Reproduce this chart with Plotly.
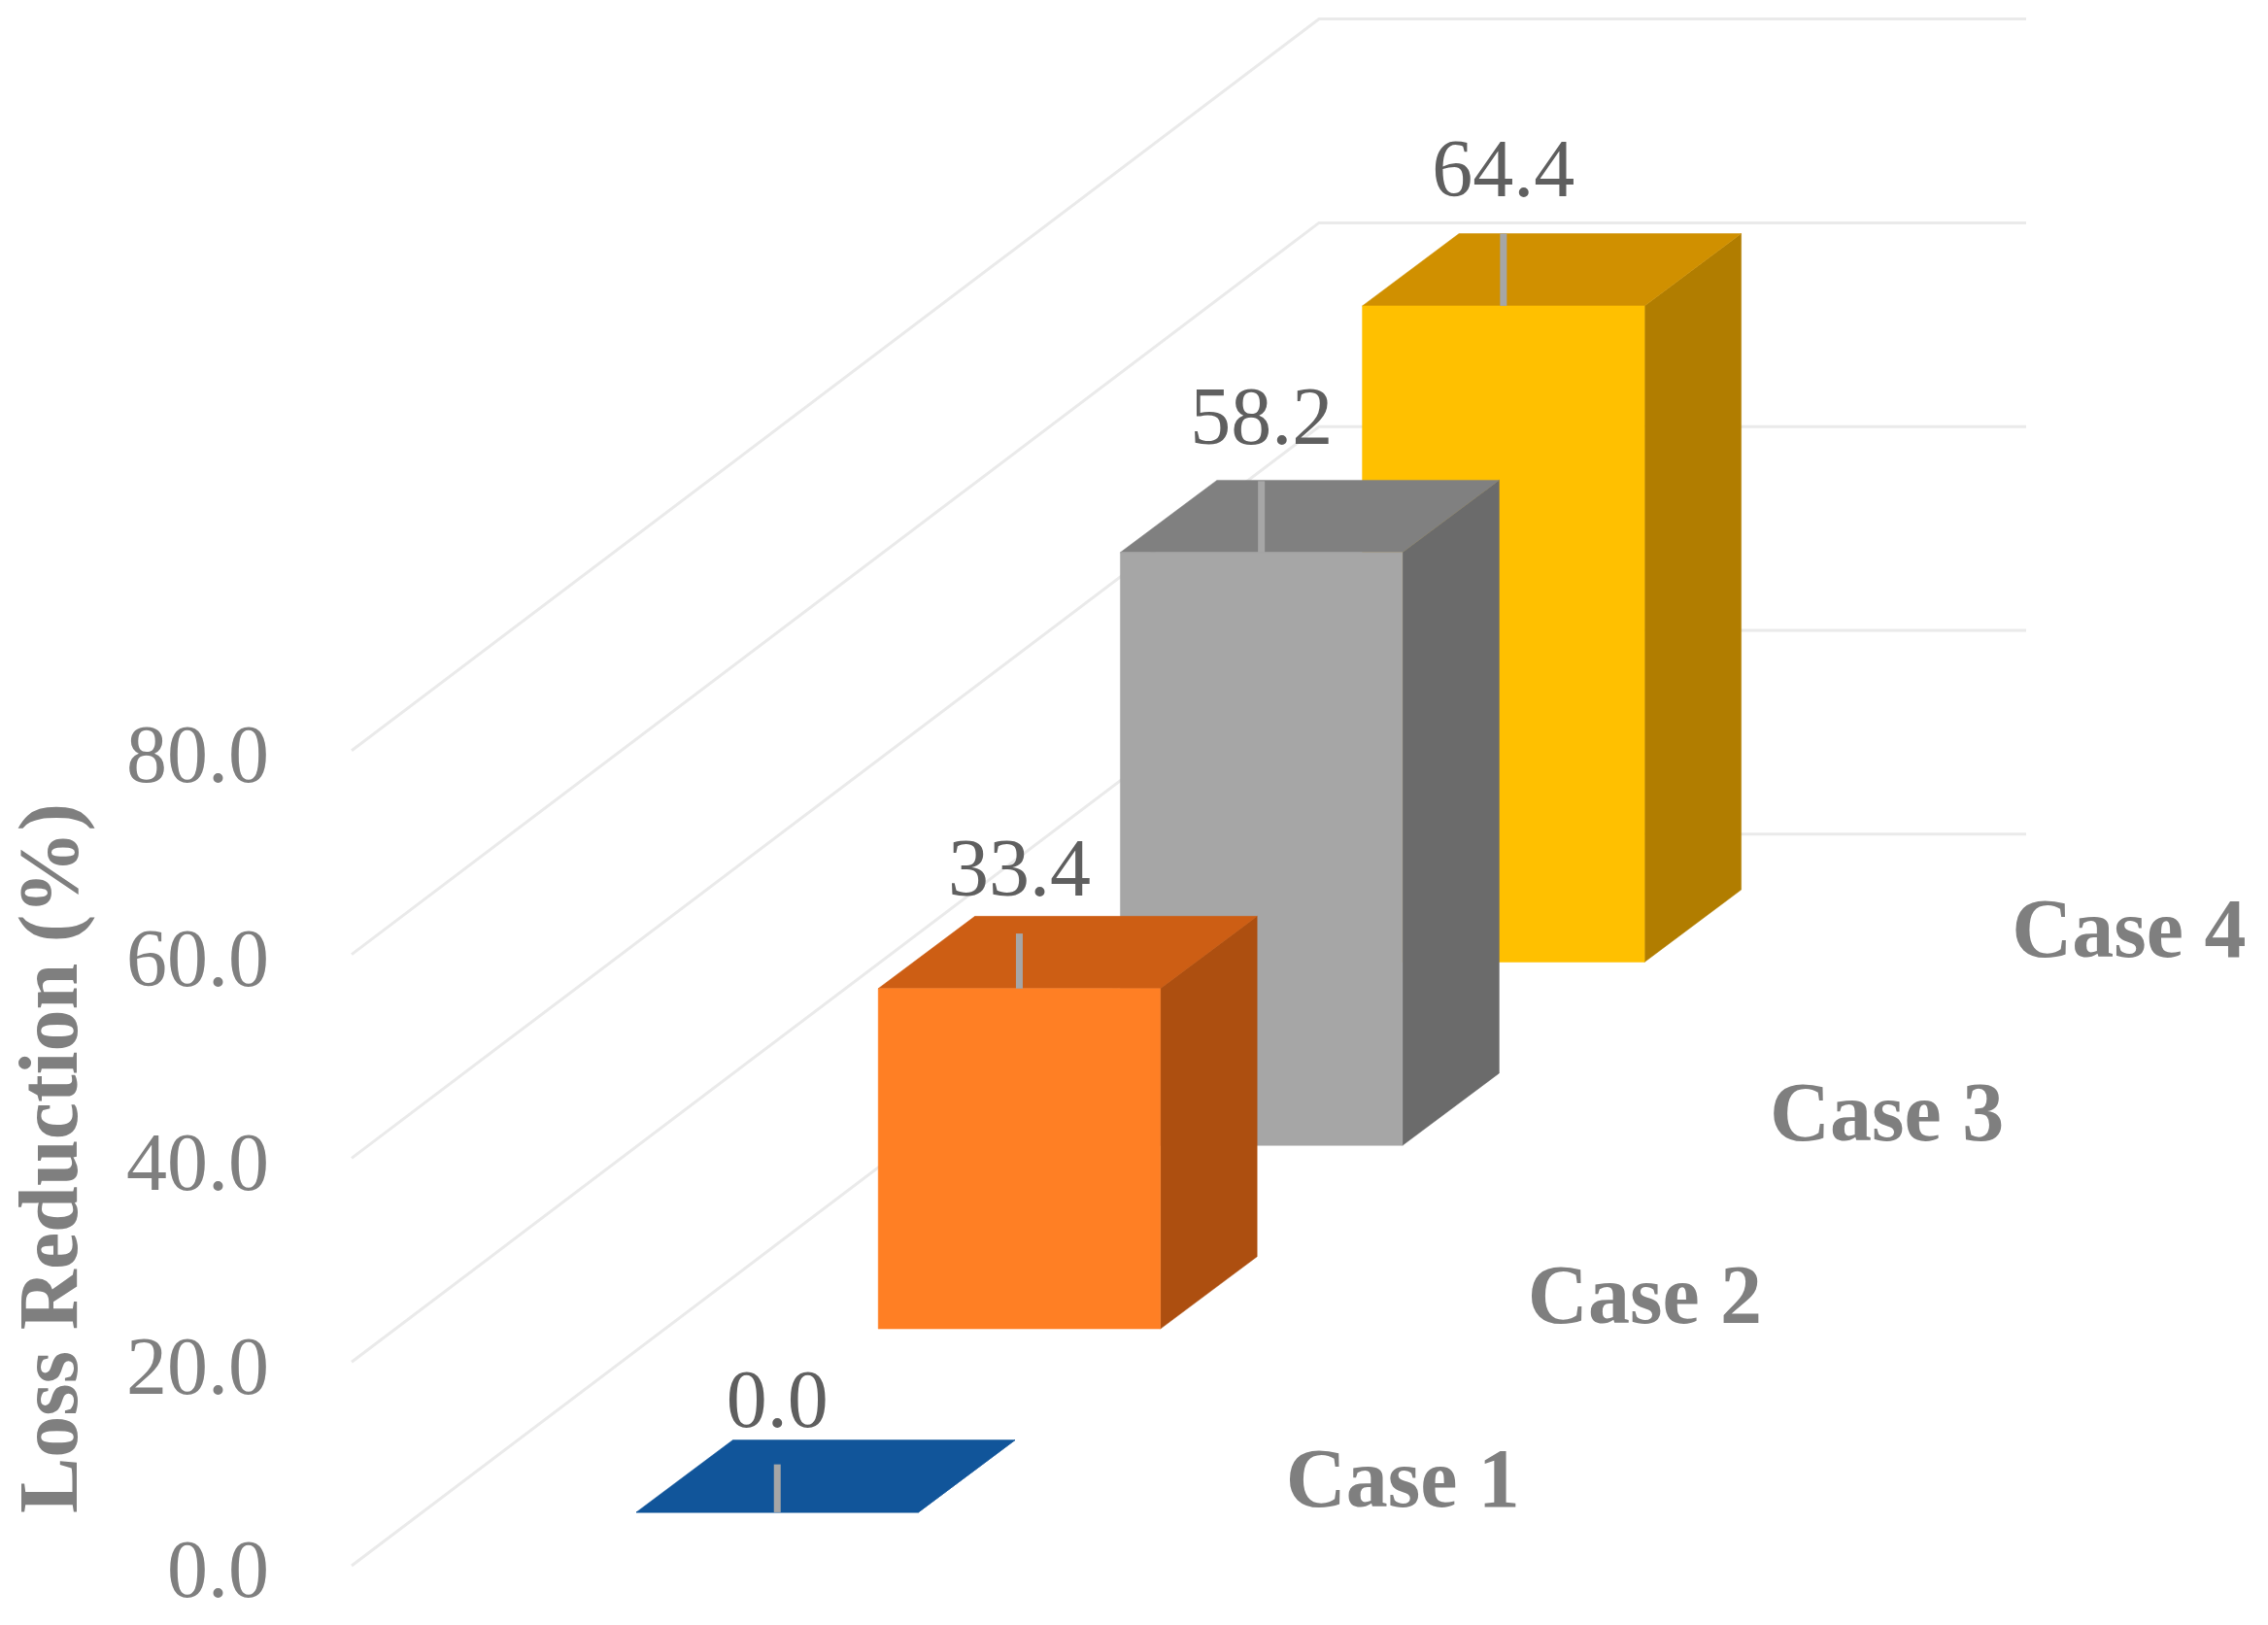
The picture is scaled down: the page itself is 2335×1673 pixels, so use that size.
import plotly.graph_objects as go

# --- data ---
categories = ["Case 1", "Case 2", "Case 3", "Case 4"]
values = [0.0, 33.4, 58.2, 64.4]
value_labels = ["0.0", "33.4", "58.2", "64.4"]
y_ticks = [0, 20, 40, 60, 80]
y_tick_labels = ["0.0", "20.0", "40.0", "60.0", "80.0"]
y_title = "Loss Reduction (%)"
leader_units = [4.7, 5.4, 7.0, 7.1]

front_colors = ["#11559A", "#FF7F24", "#A6A6A6", "#FFC000"]
top_colors = ["#11559A", "#CD5E14", "#808080", "#D09000"]
side_colors = ["#11559A", "#AD4F10", "#6B6B6B", "#B17D00"]

# --- oblique projection settings (horizontal unit = page pixel, vertical unit = axis value) ---
PX_PER_UNIT = 10.49
BAR_X0, CASE_DX, BAR_W = 655.0, 249.2, 290.5
BASE_V0, CASE_DV = 5.25, 18.0
DEPTH_DX, DEPTH_DV = 99.5, 7.09
GRID_X = (362.0, 1358.0, 2086.0)
GRID_DV = 71.8
LEFT = 285
W, H = 2335, 1673
ZERO_Y_PX = 1612.0

GRID = "#EAEAEA"
FONT = "Liberation Serif"
FS = 84


def bar_faces(i, v):
    x0 = BAR_X0 + i * CASE_DX
    x1 = x0 + BAR_W
    b = BASE_V0 + i * CASE_DV
    t = b + v
    front = ([x0, x1, x1, x0, x0], [b, b, t, t, b])
    side = ([x1, x1 + DEPTH_DX, x1 + DEPTH_DX, x1, x1],
            [b, b + DEPTH_DV, t + DEPTH_DV, t, b])
    top = ([x0, x1, x1 + DEPTH_DX, x0 + DEPTH_DX, x0],
           [t, t, t + DEPTH_DV, t + DEPTH_DV, t])
    return front, side, top


fig = go.Figure()

# floor / wall gridlines
for tv in y_ticks:
    fig.add_trace(go.Scatter(
        x=list(GRID_X), y=[tv, tv + GRID_DV, tv + GRID_DV], mode="lines",
        line=dict(color=GRID, width=3), hoverinfo="skip", showlegend=False))

# bars, back to front
for i in reversed(range(len(categories))):
    front, side, top = bar_faces(i, values[i])
    for (xs, ys), col in ((side, side_colors[i]), (top, top_colors[i]), (front, front_colors[i])):
        fig.add_trace(go.Scatter(
            x=xs, y=ys, mode="lines", fill="toself", fillcolor=col,
            line=dict(color=col, width=0.5), hoverinfo="skip", showlegend=False))

# leader lines and labels
lab_x, lab_y, cat_x, cat_y = [], [], [], []
for i, v in enumerate(values):
    cx = BAR_X0 + i * CASE_DX + BAR_W / 2
    t = BASE_V0 + i * CASE_DV + v
    fig.add_trace(go.Scatter(
        x=[cx, cx], y=[t, t + leader_units[i]], mode="lines",
        line=dict(color="#A6A6A6", width=7), hoverinfo="skip", showlegend=False))
    lab_x.append(cx)
    lab_y.append(t + leader_units[i] + 5.7)
    cat_x.append(cx + 644)
    cat_y.append(BASE_V0 + i * CASE_DV + 2.6)

fig.add_trace(go.Scatter(
    x=lab_x, y=lab_y, mode="text", text=value_labels, textposition="middle center",
    textfont=dict(family=FONT, size=FS, color="#5F5F5F"),
    cliponaxis=False, hoverinfo="skip", showlegend=False))
fig.add_trace(go.Scatter(
    x=cat_x, y=cat_y, mode="text", text=[f"<b>{c}</b>" for c in categories],
    textposition="middle center",
    textfont=dict(family=FONT, size=86, color="#7F7F7F"),
    cliponaxis=False, hoverinfo="skip", showlegend=False))

fig.update_layout(
    width=W, height=H,
    margin=dict(l=LEFT, r=0, t=0, b=0),
    paper_bgcolor="white", plot_bgcolor="white",
    showlegend=False,
    xaxis=dict(range=[LEFT, W], visible=False, fixedrange=True),
    yaxis=dict(
        range=[(ZERO_Y_PX - H) / PX_PER_UNIT, ZERO_Y_PX / PX_PER_UNIT],
        tickmode="array", tickvals=y_ticks, ticktext=y_tick_labels,
        tickfont=dict(family=FONT, size=FS, color="#7F7F7F"),
        showgrid=False, zeroline=False, showline=False, ticks="",
        ticklabelstandoff=7, ticklabelshift=3, fixedrange=True),
    annotations=[dict(
        text=f"<b>{y_title}</b>", textangle=-90, showarrow=False,
        xref="paper", yref="y", x=0, xanchor="center", xshift=-235,
        y=(ZERO_Y_PX - 1193) / PX_PER_UNIT, yanchor="middle",
        font=dict(family=FONT, size=86, color="#7F7F7F"))],
)

fig.write_html("out.html", post_script="document.body.style.margin='0';",
               config={"displayModeBar": False})
